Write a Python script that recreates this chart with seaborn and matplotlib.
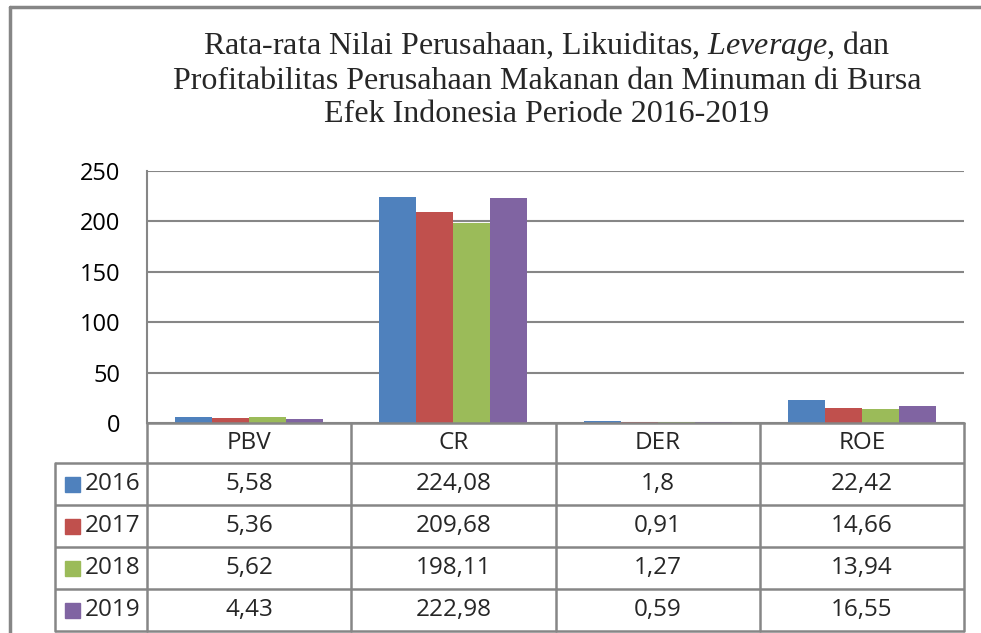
import matplotlib
matplotlib.use("Agg")
import matplotlib.pyplot as plt
import matplotlib.transforms as mtransforms
import pandas as pd
import seaborn as sns

categories = ["PBV", "CR", "DER", "ROE"]
years = ["2016", "2017", "2018", "2019"]
values_2016 = [5.58, 224.08, 1.8, 22.42]
values_2017 = [5.36, 209.68, 0.91, 14.66]
values_2018 = [5.62, 198.11, 1.27, 13.94]
values_2019 = [4.43, 222.98, 0.59, 16.55]
colors = ["#4F81BD", "#C0504D", "#9BBB59", "#8064A2"]

series = [values_2016, values_2017, values_2018, values_2019]
df = pd.DataFrame(
    [(c, y, v) for y, vals in zip(years, series) for c, v in zip(categories, vals)],
    columns=["kategori", "tahun", "nilai"],
)

sns.set_style("white")
plt.rcParams["font.family"] = ["Open Sans", "DejaVu Sans"]
plt.rcParams["mathtext.fontset"] = "custom"
plt.rcParams["mathtext.rm"] = "Liberation Serif"
plt.rcParams["mathtext.it"] = "Liberation Serif:italic"

W, H = 981, 633
fig = plt.figure(figsize=(W / 100, H / 100), dpi=100)
grid_c = "#868686"

# pixel layout
ax_l, ax_r, ax_t, ax_b = 147, 964, 171, 423
ax = fig.add_axes([ax_l / W, 1 - ax_b / H, (ax_r - ax_l) / W, (ax_b - ax_t) / H])

sns.barplot(data=df, x="kategori", y="nilai", hue="tahun", order=categories,
            hue_order=years, palette=colors, saturation=1, width=0.725,
            linewidth=0, legend=False, ax=ax)
ax.set_ylim(0, 250)
ax.set_xlim(-0.5, len(categories) - 0.5)
ax.set_yticks(range(0, 251, 50))
ax.yaxis.grid(True, color=grid_c, linewidth=1.5)
ax.set_axisbelow(True)
ax.set_xticks([])
ax.set_xlabel("")
ax.set_ylabel("")
ax.tick_params(axis="y", length=0, pad=19, labelsize=17, labelcolor="black")
for side in ["top", "right", "bottom"]:
    ax.spines[side].set_visible(False)
ax.spines["left"].set_color(grid_c)
ax.spines["left"].set_linewidth(1.5)

# data table underneath, x in data units of the bar axes, y in pixels
ov = fig.add_axes([0, 0, 1, 1], facecolor="none")
ov.set_xlim(0, W)
ov.set_ylim(H, 0)
ov.axis("off")
blend = mtransforms.blended_transform_factory(ax.transData, ov.transData)

row_y = [423, 463, 505, 547, 589, 631]
leg_l = 55
lw = 1.8
for y in row_y[1:]:
    ov.plot([leg_l, ax_r], [y, y], color=grid_c, lw=lw, solid_capstyle="butt")
ov.plot([leg_l, leg_l], [row_y[1], row_y[-1]], color=grid_c, lw=lw)
for i in range(len(categories) + 1):
    ov.plot([i - 0.5, i - 0.5], [row_y[0], row_y[-1]], color=grid_c, lw=lw,
            transform=blend)
ov.plot([-0.5, len(categories) - 0.5], [row_y[0], row_y[0]], color=grid_c,
        lw=lw, transform=blend)

fs = 17.5
for i, cat in enumerate(categories):
    ov.text(i, (row_y[0] + row_y[1]) / 2, cat, ha="center", va="center",
            fontsize=fs, transform=blend)
for r, (yr, vals, col) in enumerate(zip(years, series, colors)):
    yc = (row_y[r + 1] + row_y[r + 2]) / 2
    ov.add_patch(plt.Rectangle((65, yc - 7), 15, 15, color=col))
    ov.text(85, yc, yr, ha="left", va="center", fontsize=fs)
    for i, v in enumerate(vals):
        ov.text(i, yc, f"{v:g}".replace(".", ","), ha="center", va="center",
                fontsize=fs, transform=blend)

# outer frame
ov.plot([10, 10], [7, H], color=grid_c, lw=2.5)
ov.plot([10, W], [7, 7], color=grid_c, lw=2.5)

title = ("Rata-rata Nilai Perusahaan, Likuiditas, $\\it{Leverage}$, dan\n"
         "Profitabilitas Perusahaan Makanan dan Minuman di Bursa\n"
         "Efek Indonesia Periode 2016-2019")
fig.text(547 / W, 1 - 79 / H, title, ha="center", va="center",
         family="Liberation Serif", fontsize=23, linespacing=1.2)

fig.savefig("out.png", dpi=100)
